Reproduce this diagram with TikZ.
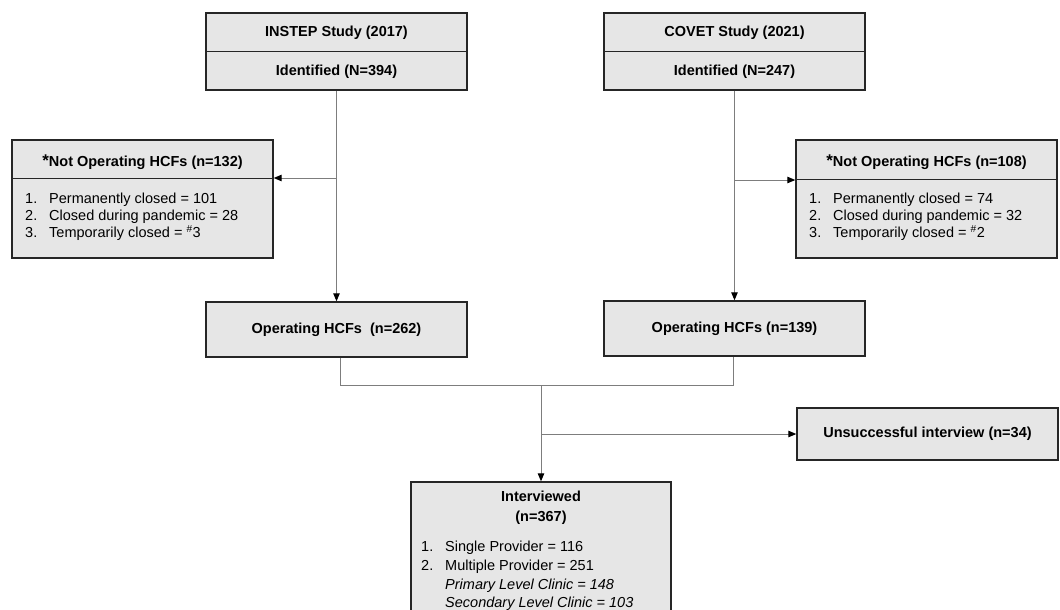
\documentclass[tikz,border=0pt]{standalone}
\usepackage{fontspec}
\setmainfont{Liberation Sans}
\usetikzlibrary{arrows.meta}
\definecolor{boxfill}{RGB}{230,230,230}
\definecolor{boxline}{RGB}{38,38,38}
\definecolor{conn}{RGB}{125,125,125}
\tikzset{
  box/.style={draw=boxline, line width=1.4pt, fill=boxfill, inner sep=0pt, minimum width=261pt},
  ttl/.style={font=\fontsize{14.5}{17}\selectfont\bfseries, inner sep=0pt},
  lst/.style={font=\fontsize{14.5}{17}\selectfont, align=left, inner sep=0pt, anchor=north west},
  divline/.style={draw=boxline, line width=1pt},
  conline/.style={draw=conn, line width=1pt},
  arr/.style={conline, -{Triangle[length=8pt, width=6.5pt, fill=black, color=black]}}
}
\newcommand{\itm}[1]{\makebox[24pt][l]{#1}}
\begin{document}
\begin{tikzpicture}[x=1pt, y=-1pt]
\useasboundingbox (0,0) rectangle (1060,610);
\clip (0,0) rectangle (1060,610);

% boxes
\node[box, minimum height=77pt] (instep) at (336.5,51.5) {};
\node[box, minimum height=77pt] (covet) at (734.5,51.5) {};
\node[box, minimum height=118pt] (nop1) at (142.5,199) {};
\node[box, minimum height=118pt] (nop2) at (926.5,199) {};
\node[box, minimum height=55pt] (op1) at (336.5,329.5) {};
\node[box, minimum height=55pt] (op2) at (734.5,328.5) {};
\node[box, minimum height=52pt] (uns) at (927.5,434) {};
\node[box, minimum height=140pt, minimum width=260pt] (intv) at (541,552) {};

% dividers
\draw[divline] (instep.west |- 0,52) -- (instep.east |- 0,52);
\draw[divline] (covet.west |- 0,52) -- (covet.east |- 0,52);
\draw[divline] (nop1.west |- 0,178) -- (nop1.east |- 0,178);
\draw[divline] (nop2.west |- 0,179) -- (nop2.east |- 0,179);

% texts
\node[ttl] (t1) at (336.5,33) {INSTEP Study (2017)};
\node[ttl] (t2) at (336.5,72) {Identified (N=394)};
\node[ttl] (t3) at (734.5,33) {COVET Study (2021)};
\node[ttl] (t4) at (734.5,72) {Identified (N=247)};
\node[ttl] (t5) at (142.5,162) {{\fontsize{17}{17}\selectfont *}Not Operating HCFs (n=132)};
\node[ttl] (t6) at (926.5,162) {{\fontsize{17}{17}\selectfont *}Not Operating HCFs (n=108)};
\node[lst] (l1) at (25,193) {\itm{1.}Permanently closed = 101\\\itm{2.}Closed during pandemic = 28\\\itm{3.}Temporarily closed = \textsuperscript{\#}3};
\node[lst] (l2) at (809,193) {\itm{1.}Permanently closed = 74\\\itm{2.}Closed during pandemic = 32\\\itm{3.}Temporarily closed = \textsuperscript{\#}2};
\node[ttl] (t7) at (336.5,329.5) {Operating HCFs\ \ (n=262)};
\node[ttl] (t8) at (734.5,328.5) {Operating HCFs (n=139)};
\node[ttl] (t9) at (927.5,434) {Unsuccessful interview (n=34)};
\node[ttl, align=center, font=\fontsize{14.5}{20}\selectfont\bfseries] (t10) at (541,508) {Interviewed\\(n=367)};
\node[lst, font=\fontsize{14.5}{18.7}\selectfont] (l3) at (421,541) {\itm{1.}Single Provider = 116\\\itm{2.}Multiple Provider = 251\\\itm{}\textit{Primary Level Clinic = 148}\\\itm{}\textit{Secondary Level Clinic = 103}};

% connectors
\draw[arr] (instep.south) -- (op1.north);
\draw[arr] (instep.south |- 0,178) -- (nop1.east |- 0,178);
\draw[arr] (covet.south) -- (op2.north);
\draw[arr] (covet.south |- 0,180) -- (nop2.west |- 0,180);
\coordinate (j1) at (340,385);
\coordinate (j2) at (733,385);
\coordinate (jm) at (541,385);
\draw[conline] (op1.south -| j1) -- (j1) -- (j2) -- (op2.south -| j2);
\draw[arr] (jm) -- (intv.north);
\draw[arr] (jm |- uns.west) -- (uns.west);
\end{tikzpicture}
\end{document}
